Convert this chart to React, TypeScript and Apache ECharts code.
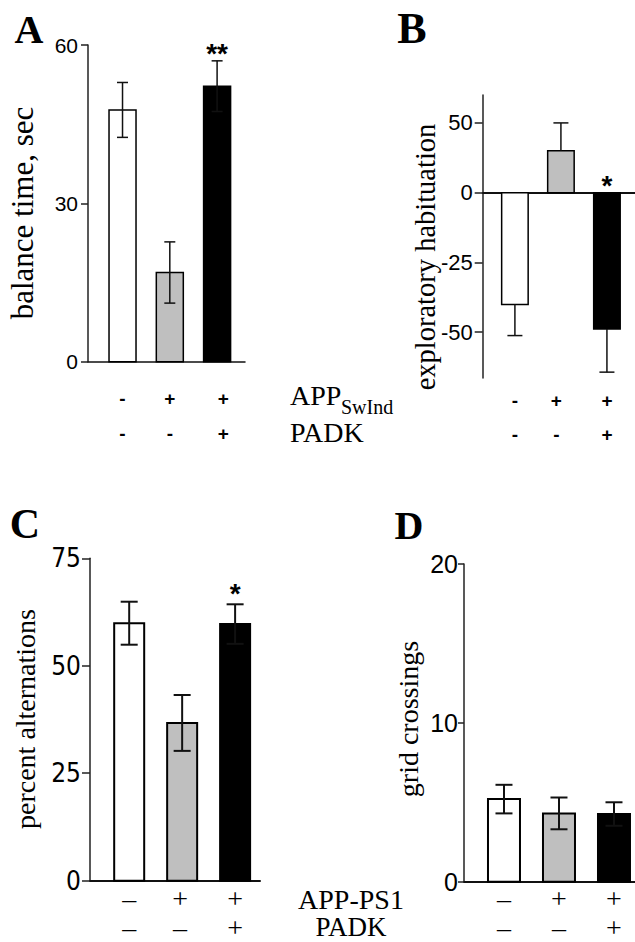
import React, { useEffect, useRef } from 'react';
import * as echarts from 'echarts';

const SANS = '"Liberation Sans", Arial, Helvetica, sans-serif';
const NARROW = '"Liberation Sans Narrow", "Arial Narrow", "DejaVu Sans Condensed", "Liberation Sans", sans-serif';
const SERIF = '"Liberation Serif", "Times New Roman", Times, serif';

// ---------------- data ----------------
const barColors = ['#ffffff', '#bfbfbf', '#000000'];

// A: balance time (APP SwInd)
const balanceTime = [47.7, 16.9, 52.2];
const balanceTimeSem = [5.2, 5.8, 4.8];
const balanceStars = ['', '', '**'];
const balanceTicks = [0, 30, 60];
const balanceTickLabels = ['0', '30', '60'];

// B: exploratory habituation (APP SwInd)
const habituation = [-40.1, 15, -48.8];
const habituationSem = [11.1, 10, 15.5];
const habituationStars = ['', '', '*'];
const habituationTicks = [-50, -25, 0, 25];
const habituationTickLabels = ['-50', '-25', '0', '50'];

// C: percent alternations (APP-PS1)
const alternations = [59.9, 36.7, 59.7];
const alternationsSem = [5.0, 6.5, 4.6];
const alternationsStars = ['', '', '*'];
const alternationsTicks = [0, 25, 50, 75];
const alternationsTickLabels = ['0', '25', '50', '75'];

// D: grid crossings (APP-PS1)
const crossings = [5.2, 4.3, 4.26];
const crossingsSem = [0.9, 1.0, 0.74];
const crossingsStars = ['', '', ''];
const crossingsTicks = [0, 10, 20];
const crossingsTickLabels = ['0', '10', '20'];

// group rows
const swIndGenotype = ['-', '+', '+'];
const swIndTreatment = ['-', '-', '+'];
const ps1Genotype = ['–', '+', '+'];
const ps1Treatment = ['–', '–', '+'];

// ---------------- layout ----------------
type Panel = {
  values: number[]; errors: number[]; stars: string[];
  ticks: number[]; tickLabels: string[];
  row1: string[]; row2: string[]; rowPos: number[];
  grid: { left: number; top: number; width: number; height: number };
  xMin: number; xMax: number; yMin: number; yMax: number;
  barWidth: number; capWidth: number; errWidth: number; borderWidth: number;
  outwardOnly: boolean; zeroWidth: number;
  tickFont: number; tickFamily: string; tickMargin: number; tickLen: number;
  rowFont: number; rowFamily: string; rowWeight: string; row1Margin: number; row2Margin: number;
  starGap: number;
};

const panels: Panel[] = [
  {
    values: balanceTime, errors: balanceTimeSem, stars: balanceStars,
    ticks: balanceTicks, tickLabels: balanceTickLabels,
    row1: swIndGenotype, row2: swIndTreatment, rowPos: [0, 1, 2.13],
    grid: { left: 88, top: 45, width: 157, height: 316.7 },
    xMin: -0.73, xMax: 2.59, yMin: 0, yMax: 60,
    barWidth: 27, capWidth: 11, errWidth: 1.5, borderWidth: 1.5,
    outwardOnly: false, zeroWidth: 1.5,
    tickFont: 21, tickFamily: SANS, tickMargin: 10, tickLen: 7,
    rowFont: 19, rowFamily: SANS, rowWeight: 'bold', row1Margin: 36.5, row2Margin: 71.5,
    starGap: 7,
  },
  {
    values: habituation, errors: habituationSem, stars: habituationStars,
    ticks: habituationTicks, tickLabels: habituationTickLabels,
    row1: swIndGenotype, row2: swIndTreatment, rowPos: [0, 0.9, 2],
    grid: { left: 482.7, top: 95, width: 152.3, height: 283 },
    xMin: -0.7, xMax: 2.61, yMin: -66.4, yMax: 35,
    barWidth: 26.5, capWidth: 15, errWidth: 1.5, borderWidth: 1.5,
    outwardOnly: true, zeroWidth: 2,
    tickFont: 22, tickFamily: SANS, tickMargin: 10, tickLen: 8,
    rowFont: 19, rowFamily: SANS, rowWeight: 'bold', row1Margin: 22, row2Margin: 56,
    starGap: 7,
  },
  {
    values: alternations, errors: alternationsSem, stars: alternationsStars,
    ticks: alternationsTicks, tickLabels: alternationsTickLabels,
    row1: ps1Genotype, row2: ps1Treatment, rowPos: [0, 0.96, 2],
    grid: { left: 90, top: 558.3, width: 170, height: 322.4 },
    xMin: -0.74, xMax: 2.47, yMin: 0, yMax: 75,
    barWidth: 30, capWidth: 17, errWidth: 2, borderWidth: 2,
    outwardOnly: false, zeroWidth: 2,
    tickFont: 26, tickFamily: NARROW, tickMargin: 9, tickLen: 8,
    rowFont: 28, rowFamily: SERIF, rowWeight: 'normal', row1Margin: 18, row2Margin: 47,
    starGap: 11,
  },
  {
    values: crossings, errors: crossingsSem, stars: crossingsStars,
    ticks: crossingsTicks, tickLabels: crossingsTickLabels,
    row1: ps1Genotype, row2: ps1Treatment, rowPos: [0, 1, 2],
    grid: { left: 464, top: 564, width: 171, height: 317.7 },
    xMin: -0.727, xMax: 2.382, yMin: 0, yMax: 20,
    barWidth: 32, capWidth: 17, errWidth: 2, borderWidth: 2,
    outwardOnly: false, zeroWidth: 2,
    tickFont: 25, tickFamily: SANS, tickMargin: 6, tickLen: 6,
    rowFont: 28, rowFamily: SERIF, rowWeight: 'normal', row1Margin: 17, row2Margin: 46,
    starGap: 7,
  },
];

function nearestIndex(arr: number[], v: number) {
  let best = 0;
  for (let i = 1; i < arr.length; i++) if (Math.abs(arr[i] - v) < Math.abs(arr[best] - v)) best = i;
  return best;
}

function buildOption() {
  const grids: any[] = [];
  const xAxes: any[] = [];
  const yAxes: any[] = [];
  const series: any[] = [];

  panels.forEach((p, i) => {
    grids.push({ ...p.grid, containLabel: false, outerBoundsMode: 'none' });

    const baseX = {
      type: 'value', gridIndex: i, min: p.xMin, max: p.xMax,
      splitLine: { show: false }, axisTick: { show: false },
    };
    xAxes.push({
      ...baseX,
      axisLine: { show: true, onZero: true, lineStyle: { color: '#111', width: p.zeroWidth } },
      axisLabel: { show: false },
    });
    [p.row1, p.row2].forEach((row, r) => {
      xAxes.push({
        ...baseX,
        position: 'bottom',
        axisLine: { show: false, onZero: false },
        axisLabel: {
          show: true,
          customValues: p.rowPos,
          formatter: (v: number) => row[nearestIndex(p.rowPos, v)],
          margin: r === 0 ? p.row1Margin : p.row2Margin,
          verticalAlign: 'middle',
          fontSize: p.rowFont, fontFamily: p.rowFamily, fontWeight: p.rowWeight, color: '#000',
          showMinLabel: true, showMaxLabel: true,
        },
      });
    });

    yAxes.push({
      type: 'value', gridIndex: i, min: p.yMin, max: p.yMax,
      splitLine: { show: false },
      axisLine: { show: true, onZero: false, lineStyle: { color: '#222', width: 1.5 } },
      axisTick: { show: true, customValues: p.ticks, length: p.tickLen, lineStyle: { color: '#222', width: 1.5 } },
      axisLabel: {
        show: true, customValues: p.ticks,
        formatter: (v: number) => p.tickLabels[nearestIndex(p.ticks, v)],
        margin: p.tickMargin, fontSize: p.tickFont, fontFamily: p.tickFamily, color: '#000',
        showMinLabel: true, showMaxLabel: true,
      },
    });

    series.push({
      type: 'custom',
      xAxisIndex: i * 3,
      yAxisIndex: i,
      clip: false,
      encode: { x: 0, y: 1 },
      data: p.values.map((v, k) => [k, v, p.errors[k]]),
      renderItem: (params: any, api: any) => {
        const k = params.dataIndex;
        const x = api.value(0);
        const v = api.value(1);
        const e = api.value(2);
        const base = api.coord([x, 0]);
        const top = api.coord([x, v]);
        const cx = base[0];
        const hi = api.coord([x, v + e])[1];
        const lo = api.coord([x, v - e])[1];
        const children: any[] = [];
        children.push({
          type: 'rect',
          shape: { x: cx - p.barWidth / 2, y: Math.min(base[1], top[1]), width: p.barWidth, height: Math.abs(base[1] - top[1]) },
          style: { fill: barColors[k], stroke: '#000', lineWidth: p.borderWidth },
        });
        let y1: number, y2: number, caps: number[];
        if (p.outwardOnly) {
          const end = v >= 0 ? hi : lo;
          y1 = top[1]; y2 = end; caps = [end];
        } else {
          y1 = hi; y2 = lo; caps = [hi, lo];
        }
        const ls = { stroke: '#111', lineWidth: p.errWidth };
        children.push({ type: 'line', shape: { x1: cx, y1, x2: cx, y2 }, style: ls });
        caps.forEach((cy) => children.push({
          type: 'line', shape: { x1: cx - p.capWidth / 2, y1: cy, x2: cx + p.capWidth / 2, y2: cy }, style: ls,
        }));
        if (p.stars[k]) {
          const anchor = Math.min(base[1], hi) - p.starGap;
          children.push({
            type: 'text', x: cx, y: anchor,
            style: { text: p.stars[k], fontSize: 28, fontWeight: 'bold', fontFamily: SANS, fill: '#000', align: 'center', verticalAlign: 'middle' },
          });
        }
        return { type: 'group', children };
      },
    });
  });

  const letter = (t: string, x: number, y: number, size: number) => ({
    type: 'text', x, y,
    style: { text: t, fontFamily: SERIF, fontWeight: 'bold', fontSize: size, fill: '#000', align: 'center', verticalAlign: 'middle' },
  });
  const yName = (t: string, x: number, y: number, size: number) => ({
    type: 'text', x, y, rotation: Math.PI / 2,
    style: { text: t, fontFamily: SERIF, fontSize: size, fill: '#000', align: 'center', verticalAlign: 'middle' },
  });
  const label = (t: string, x: number, y: number, size: number, align: string) => ({
    type: 'text', x, y,
    style: { text: t, fontFamily: SERIF, fontSize: size, fill: '#000', align, verticalAlign: 'middle' },
  });

  const graphic = [
    letter('A', 29, 29, 40),
    letter('B', 412, 28, 44),
    letter('C', 25, 524, 42),
    letter('D', 409, 525, 40),
    yName('balance time, sec', 22, 213, 31),
    yName('exploratory habituation', 425, 257, 28.5),
    yName('percent alternations', 25, 719, 28),
    yName('grid crossings', 408, 719, 28),
    label('APP', 290, 395, 28, 'left'),
    label('SwInd', 341, 407, 20, 'left'),
    label('PADK', 290, 432, 28, 'left'),
    label('APP-PS1', 351, 899, 28, 'center'),
    label('PADK', 351, 927, 27, 'center'),
  ];

  return {
    animation: false,
    backgroundColor: '#ffffff',
    grid: grids,
    xAxis: xAxes,
    yAxis: yAxes,
    series,
    graphic,
  };
}

export default function App() {
  const ref = useRef<HTMLDivElement>(null);
  useEffect(() => {
    const chart = echarts.init(ref.current as HTMLDivElement, null, { renderer: 'svg' });
    chart.setOption(buildOption() as any);
    return () => chart.dispose();
  }, []);
  return (
    <div
      ref={ref}
      style={{ position: 'absolute', left: 0, top: 0, width: 635, height: 942, background: '#fff' }}
    />
  );
}
